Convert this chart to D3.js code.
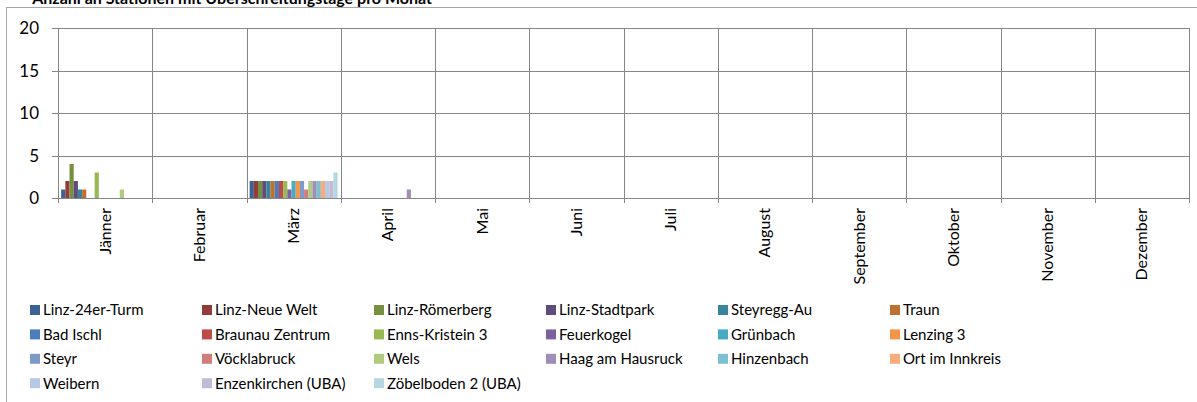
<!DOCTYPE html>
<html>
<head>
<meta charset="utf-8">
<script src="https://cdn.jsdelivr.net/npm/d3@7"></script>
<style>
  body { margin: 0; background: #fff; }
  svg { display: block; font-family: Lato, 'Liberation Sans', sans-serif; }
</style>
</head>
<body>
<svg id="chart" width="1197" height="402"></svg>
<script>
// months on the x axis
const months = ['Jänner', 'Februar', 'März', 'April', 'Mai', 'Juni', 'Juli',
  'August', 'September', 'Oktober', 'November', 'Dezember'];

// stations, in series order
const stations = [
  'Linz-24er-Turm', 'Linz-Neue Welt', 'Linz-Römerberg', 'Linz-Stadtpark', 'Steyregg-Au', 'Traun',
  'Bad Ischl', 'Braunau Zentrum', 'Enns-Kristein 3', 'Feuerkogel', 'Grünbach', 'Lenzing 3',
  'Steyr', 'Vöcklabruck', 'Wels', 'Haag am Hausruck', 'Hinzenbach', 'Ort im Innkreis',
  'Weibern', 'Enzenkirchen (UBA)', 'Zöbelboden 2 (UBA)'
];

const colors = [
  '#3c6293', '#933c3a', '#76903f', '#5f4b7c', '#38849a', '#c0712f',
  '#4a7ebb', '#be4b48', '#98b954', '#7d60a0', '#46aac5', '#f69546',
  '#7e9bc8', '#cf7e7c', '#b0ca7f', '#a08db8', '#7cc0d4', '#f9ab7b',
  '#b9c8e2', '#c3bbd5', '#b6d7e2'
];

// days per month, one row per station (Jän .. Dez)
const counts = [
  [1, 0, 2, 0, 0, 0, 0, 0, 0, 0, 0, 0],
  [2, 0, 2, 0, 0, 0, 0, 0, 0, 0, 0, 0],
  [4, 0, 2, 0, 0, 0, 0, 0, 0, 0, 0, 0],
  [2, 0, 2, 0, 0, 0, 0, 0, 0, 0, 0, 0],
  [1, 0, 2, 0, 0, 0, 0, 0, 0, 0, 0, 0],
  [1, 0, 2, 0, 0, 0, 0, 0, 0, 0, 0, 0],
  [0, 0, 2, 0, 0, 0, 0, 0, 0, 0, 0, 0],
  [0, 0, 2, 0, 0, 0, 0, 0, 0, 0, 0, 0],
  [3, 0, 2, 0, 0, 0, 0, 0, 0, 0, 0, 0],
  [0, 0, 1, 0, 0, 0, 0, 0, 0, 0, 0, 0],
  [0, 0, 2, 0, 0, 0, 0, 0, 0, 0, 0, 0],
  [0, 0, 2, 0, 0, 0, 0, 0, 0, 0, 0, 0],
  [0, 0, 2, 0, 0, 0, 0, 0, 0, 0, 0, 0],
  [0, 0, 1, 0, 0, 0, 0, 0, 0, 0, 0, 0],
  [1, 0, 2, 0, 0, 0, 0, 0, 0, 0, 0, 0],
  [0, 0, 2, 1, 0, 0, 0, 0, 0, 0, 0, 0],
  [0, 0, 2, 0, 0, 0, 0, 0, 0, 0, 0, 0],
  [0, 0, 2, 0, 0, 0, 0, 0, 0, 0, 0, 0],
  [0, 0, 2, 0, 0, 0, 0, 0, 0, 0, 0, 0],
  [0, 0, 2, 0, 0, 0, 0, 0, 0, 0, 0, 0],
  [0, 0, 3, 0, 0, 0, 0, 0, 0, 0, 0, 0]
];

const yTicks = [0, 5, 10, 15, 20];

const svg = d3.select('#chart');
const plotL = 58, plotR = 1189, plotT = 28, plotB = 198;

// chart area border (runs past the picture on right/bottom)
svg.append('rect')
  .attr('x', 6.5).attr('y', 7.5)
  .attr('width', 1300).attr('height', 500)
  .attr('fill', 'none').attr('stroke', '#a6a6a6');

// title, cut at the top like in the source picture
svg.append('text')
  .attr('x', 432).attr('y', 4)
  .attr('text-anchor', 'end')
  .style('font-weight', 'bold').style('font-size', '16px')
  .text('Anzahl an Stationen mit Überschreitungstage pro Monat');

const x = d3.scaleBand().domain(months).range([plotL, plotR]).padding(0);
const xs = d3.scaleBand().domain(stations).range([0, x.bandwidth()])
  .paddingInner(0).paddingOuter(0.75);
const y = d3.scaleLinear().domain([0, 20]).range([plotB, plotT]);

const grid = '#868686';

// horizontal gridlines
svg.append('g').selectAll('line')
  .data(yTicks)
  .enter()
  .append('line')
  .attr('x1', plotL - 6).attr('x2', plotR)
  .attr('y1', (d) => Math.round(y(d)) + 0.5)
  .attr('y2', (d) => Math.round(y(d)) + 0.5)
  .attr('stroke', grid);

// vertical gridlines at category borders
const borders = months.map((m) => x(m)).concat([plotR]);
svg.append('g').selectAll('line')
  .data(borders)
  .enter()
  .append('line')
  .attr('x1', (d) => Math.round(d) + 0.5).attr('x2', (d) => Math.round(d) + 0.5)
  .attr('y1', plotT).attr('y2', plotB + 5)
  .attr('stroke', grid);

// y labels
svg.append('g').selectAll('text')
  .data(yTicks)
  .enter()
  .append('text')
  .attr('x', 39)
  .attr('y', (d) => y(d))
  .attr('dy', '0.36em')
  .attr('text-anchor', 'end')
  .style('font-size', '17px')
  .text((d) => d);

// bars
const series = svg.append('g').selectAll('g')
  .data(stations)
  .enter()
  .append('g')
  .attr('fill', (d, i) => colors[i]);

series.selectAll('rect')
  .data((d, i) => counts[i].map((v, m) => ({ station: d, month: months[m], value: v })).filter((e) => e.value > 0))
  .enter()
  .append('rect')
  .attr('x', (d) => x(d.month) + xs(d.station))
  .attr('width', xs.bandwidth())
  .attr('y', (d) => y(d.value))
  .attr('height', (d) => y(0) - y(d.value));

// month labels, rotated
svg.append('g').selectAll('text')
  .data(months)
  .enter()
  .append('text')
  .attr('transform', (d) => `translate(${x(d) + x.bandwidth() / 2},208) rotate(-90)`)
  .attr('text-anchor', 'end')
  .attr('dy', '0.35em')
  .style('font-size', '16px')
  .text((d) => d);

// legend, 6 columns
const legend = svg.append('g').selectAll('g')
  .data(stations)
  .enter()
  .append('g')
  .attr('transform', (d, i) => `translate(${30 + (i % 6) * 172},${310 + Math.floor(i / 6) * 24.4})`);

legend.append('rect')
  .attr('x', 0).attr('y', -5)
  .attr('width', 10).attr('height', 10)
  .attr('fill', (d, i) => colors[i]);

legend.append('text')
  .attr('x', 13)
  .attr('dy', '0.36em')
  .style('font-size', '15px')
  .text((d) => d);
</script>
</body>
</html>
